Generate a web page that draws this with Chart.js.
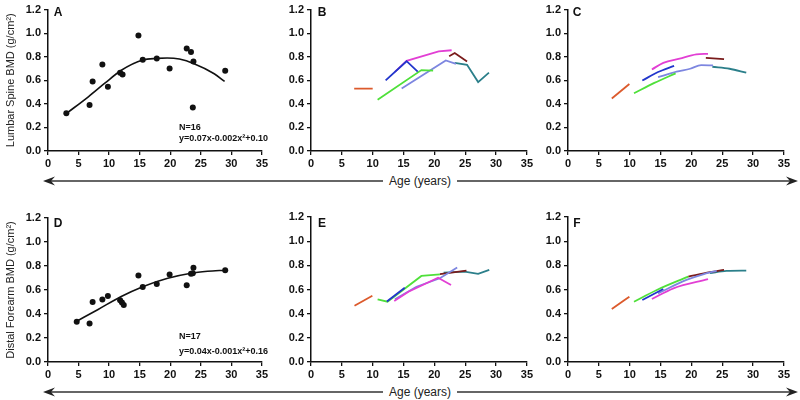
<!DOCTYPE html>
<html>
<head>
<meta charset="utf-8">
<script src="https://cdn.jsdelivr.net/npm/chart.js@4.4.1/dist/chart.umd.min.js"></script>
<style>
  body { margin: 0; background: #fff; width: 800px; height: 400px; position: relative; overflow: hidden;
         font-family: "Liberation Sans", Arial, sans-serif; color: #111; }
  .panel { position: absolute; }
  .txt { position: absolute; line-height: 1; white-space: nowrap; transform: translateY(-50%); }
  .letter { font-weight: bold; font-size: 12px; transform: translate(-50%, -50%); }
  .note { font-weight: bold; font-size: 9px; }
  .age { font-size: 12px; transform: translate(-50%, -50%); color: #222; }
  svg { position: absolute; left: 0; top: 0; pointer-events: none; }
</style>
</head>
<body>

<div class="panel" style="left:0;top:0;width:270px;height:172px"><canvas id="chartA"></canvas></div>
<div class="panel" style="left:270px;top:0;width:265px;height:172px"><canvas id="chartB"></canvas></div>
<div class="panel" style="left:530px;top:0;width:262px;height:172px"><canvas id="chartC"></canvas></div>
<div class="panel" style="left:0;top:200px;width:270px;height:183px"><canvas id="chartD"></canvas></div>
<div class="panel" style="left:270px;top:200px;width:265px;height:183px"><canvas id="chartE"></canvas></div>
<div class="panel" style="left:530px;top:200px;width:262px;height:183px"><canvas id="chartF"></canvas></div>

<div class="txt letter" style="left:58px;top:12px">A</div>
<div class="txt letter" style="left:322px;top:12px">B</div>
<div class="txt letter" style="left:577px;top:12px">C</div>
<div class="txt letter" style="left:58px;top:223px">D</div>
<div class="txt letter" style="left:322px;top:223px">E</div>
<div class="txt letter" style="left:577px;top:223px">F</div>

<div class="txt note" style="left:179px;top:127px">N=16</div>
<div class="txt note" style="left:179px;top:138px">y=0.07x-0.002x²+0.10</div>
<div class="txt note" style="left:179px;top:336px">N=17</div>
<div class="txt note" style="left:179px;top:351px">y=0.04x-0.001x²+0.16</div>

<div class="txt age" style="left:420px;top:181px">Age (years)</div>
<div class="txt age" style="left:420px;top:392px">Age (years)</div>

<svg width="800" height="400">
  <g stroke="#333" stroke-width="1.3">
    <line x1="50" y1="181" x2="383" y2="181"/>
    <line x1="457" y1="181" x2="791" y2="181"/>
    <line x1="50" y1="392" x2="383" y2="392"/>
    <line x1="457" y1="392" x2="791" y2="392"/>
  </g>
  <g fill="#222">
    <polygon points="43,181 55,176.5 51,181 55,185.5"/>
    <polygon points="798,181 786,176.5 790,181 786,185.5"/>
    <polygon points="43,392 55,387.5 51,392 55,396.5"/>
    <polygon points="798,392 786,387.5 790,392 786,396.5"/>
  </g>
</svg>

<script>
// axis ticks
const ageTicks = [0, 5, 10, 15, 20, 25, 30, 35];
const bmdTicks = [0, 0.2, 0.4, 0.6, 0.8, 1.0, 1.2];

// A: lumbar spine, one scan per subject + quadratic fit
const spineAge = [3.0, 6.8, 7.3, 8.9, 9.8, 11.8, 12.2, 14.8, 15.5, 17.8, 19.9, 22.7, 23.4, 23.8, 23.7, 29.0];
const spineBmd = [0.32, 0.39, 0.59, 0.735, 0.545, 0.665, 0.65, 0.98, 0.775, 0.785, 0.70, 0.87, 0.84, 0.76, 0.37, 0.68];
const spineFitAge = [3.0, 6.6, 9.3, 12.0, 15.5, 17.8, 19.5, 21.5, 23.9, 27.2, 28.9];
const spineFitBmd = [0.318, 0.46, 0.575, 0.685, 0.772, 0.786, 0.789, 0.78, 0.741, 0.656, 0.59];

// D: distal forearm
const forearmAge = [4.7, 6.8, 7.3, 8.9, 9.8, 11.8, 12.1, 12.4, 14.8, 15.5, 17.8, 19.9, 22.7, 23.4, 23.7, 23.8, 29.0];
const forearmBmd = [0.335, 0.32, 0.50, 0.52, 0.55, 0.515, 0.495, 0.475, 0.72, 0.625, 0.65, 0.73, 0.64, 0.735, 0.74, 0.785, 0.765];
const forearmFitAge = [4.7, 8.2, 11.9, 15.5, 19.6, 23.4, 26.1, 29.0];
const forearmFitBmd = [0.34, 0.438, 0.544, 0.628, 0.698, 0.74, 0.756, 0.765];

// per-subject trajectories (subject order: 1..7)
// B: spine observed
const spineObsAge = [[7.0, 10.0], [12.1, 15.5, 17.3], [13.6, 15.5, 20.7, 22.8], [10.8, 17.9, 19.8],
                     [14.7, 21.85, 23.5], [22.4, 23.3, 25.3], [23.3, 25.3, 27.1, 28.85]];
const spineObsBmd = [[0.53, 0.53], [0.6, 0.762, 0.673], [0.672, 0.765, 0.845, 0.855], [0.435, 0.687, 0.682],
                     [0.53, 0.768, 0.74], [0.804, 0.831, 0.759], [0.748, 0.732, 0.585, 0.665]];
// C: spine modelled
const spineModAge = [[7.1, 9.95], [12.05, 14.6, 17.2], [13.6, 15.45, 18.1, 20.8, 22.7], [10.7, 14.0, 17.45],
                     [14.6, 17.6, 19.8, 21.6, 23.5], [22.35, 25.3], [23.4, 26.2, 28.9]];
const spineModBmd = [[0.446, 0.568], [0.598, 0.67, 0.723], [0.692, 0.748, 0.784, 0.82, 0.825], [0.49, 0.578, 0.659],
                     [0.626, 0.673, 0.698, 0.729, 0.726], [0.79, 0.779], [0.715, 0.698, 0.665]];
// E: forearm observed
const forearmObsAge = [[7.05, 9.95], [12.3, 15.2], [13.5, 15.8, 20.6, 22.7], [10.8, 12.4, 17.9, 20.9],
                       [13.6, 17.1, 20.9, 23.7], [20.9, 25.2], [21.5, 24.9, 27.1, 28.9]];
const forearmObsBmd = [[0.466, 0.549], [0.5, 0.615], [0.505, 0.582, 0.698, 0.637], [0.519, 0.499, 0.712, 0.726],
                       [0.52, 0.623, 0.693, 0.782], [0.728, 0.757], [0.74, 0.748, 0.729, 0.762]];
// F: forearm modelled
const forearmModAge = [[7.1, 9.95], [12.05, 15.45], [13.6, 17.1, 22.7], [10.7, 14.4, 19.5],
                       [14.6, 19.2, 21.9, 24.1], [19.5, 23.0, 25.3], [23.0, 25.7, 28.9]];
const forearmModBmd = [[0.438, 0.54], [0.513, 0.604], [0.521, 0.61, 0.685], [0.499, 0.596, 0.707],
                       [0.568, 0.679, 0.726, 0.754], [0.707, 0.743, 0.762], [0.735, 0.754, 0.756]];

const subjectColors = ["#dc5a2c", "#2236cc", "#e23fd4", "#4fe03a", "#7d86e0", "#7a1c1c", "#2b7f8a"];

const pts = (xs, ys) => xs.map((x, i) => ({ x, y: ys[i] }));

function options(padTop, padRight, yWidth, xHeight, yTitle) {
    const grid = { display: true, drawOnChartArea: false, drawTicks: true, tickLength: 4, color: "#111", lineWidth: 1.3 };
    const border = { display: true, color: "#111", width: 1.5 };
    const tickFont = { family: "Liberation Sans", size: 11, weight: "bold" };
    return {
        responsive: true,
        maintainAspectRatio: false,
        animation: false,
        events: [],
        layout: { padding: { left: 0, top: padTop, right: padRight, bottom: 0 } },
        plugins: { legend: { display: false }, tooltip: { enabled: false } },
        scales: {
            x: {
                type: "linear", min: 0, max: 35,
                grid, border,
                afterBuildTicks: (s) => { s.ticks = ageTicks.map((v) => ({ value: v })); },
                afterFit: (s) => { s.height = xHeight; },
                ticks: { color: "#111", font: tickFont, padding: 2, maxRotation: 0, autoSkip: false },
            },
            y: {
                type: "linear", min: 0, max: 1.2,
                grid, border,
                afterBuildTicks: (s) => { s.ticks = bmdTicks.map((v) => ({ value: v })); },
                afterFit: (s) => { s.width = yWidth; },
                ticks: { color: "#111", font: tickFont, padding: 3, callback: (v) => v.toFixed(1) },
                title: { display: !!yTitle, text: yTitle || "", color: "#222",
                         font: { family: "Liberation Sans", size: 11 }, padding: { top: 4, bottom: 0 } },
            },
        },
    };
}

function scatterChart(id, xs, ys, fitX, fitY, frame, yTitle) {
    new Chart(document.getElementById(id), {
        type: "scatter",
        data: {
            datasets: [
                { data: pts(fitX, fitY), showLine: true, borderColor: "#111", borderWidth: 1.6,
                  pointRadius: 0, tension: 0.4, cubicInterpolationMode: "monotone" },
                { data: pts(xs, ys), pointRadius: 3, backgroundColor: "#111", borderWidth: 0 },
            ],
        },
        options: options(...frame, yTitle),
    });
}

function trajectoryChart(id, xsList, ysList, frame, smooth) {
    new Chart(document.getElementById(id), {
        type: "scatter",
        data: {
            datasets: xsList.map((xs, i) => ({
                data: pts(xs, ysList[i]), showLine: true, borderColor: subjectColors[i],
                borderWidth: 1.8, pointRadius: 0,
                tension: smooth ? 0.4 : 0,
                cubicInterpolationMode: smooth ? "monotone" : "default",
            })),
        },
        options: options(...frame),
    });
}

// frame: [padTop, padRight, yAxisWidth, xAxisHeight]
scatterChart("chartA", spineAge, spineBmd, spineFitAge, spineFitBmd, [9, 7, 48, 21], "Lumbar Spine BMD (g/cm²)");
trajectoryChart("chartB", spineObsAge, spineObsBmd, [7, 8, 41, 21], false);
trajectoryChart("chartC", spineModAge, spineModBmd, [7, 8, 38, 21], true);
scatterChart("chartD", forearmAge, forearmBmd, forearmFitAge, forearmFitBmd, [18, 7, 48, 21], "Distal Forearm BMD (g/cm²)");
trajectoryChart("chartE", forearmObsAge, forearmObsBmd, [17, 8, 41, 21], false);
trajectoryChart("chartF", forearmModAge, forearmModBmd, [17, 8, 38, 21], true);
</script>
</body>
</html>
